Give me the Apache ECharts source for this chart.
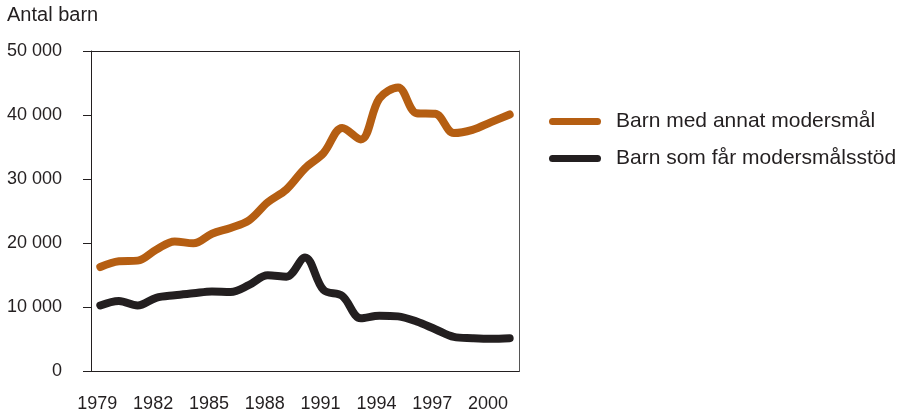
<!DOCTYPE html>
<html><head><meta charset="utf-8">
<script src="https://cdn.jsdelivr.net/npm/echarts@6/dist/echarts.min.js"></script>
<style>html,body{margin:0;padding:0;background:#fff}#c{width:906px;height:414px}</style>
</head><body><div id="c"></div>
<script>
const years = ['1979','1980','1981','1982','1983','1984','1985','1986','1987','1988','1989','1990','1991','1992','1993','1994','1995','1996','1997','1998','1999','2000','2001'];
const annatModersmal = [16300, 17200, 17300, 19000, 20300, 20000, 21500, 22400, 23600, 26400, 28400, 31700, 34100, 38000, 36200, 42600, 44300, 40300, 40200, 37200, 37700, 38900, 40100];
const modersmalsstod = [10300, 11000, 10300, 11500, 11900, 12200, 12500, 12400, 13500, 15000, 14800, 17800, 12700, 11800, 8300, 8700, 8600, 7800, 6600, 5400, 5200, 5100, 5200];
const seriesNames = ['Barn med annat modersmål', 'Barn som får modersmålsstöd'];
const yAxisName = 'Antal barn';

const txt = '#231f20';
const font = 'Liberation Sans, Arial, sans-serif';
const chart = echarts.init(document.getElementById('c'));
const pill = 'path://M3.5,0 L48.5,0 A3.5,3.5 0 0 1 48.5,7 L3.5,7 A3.5,3.5 0 0 1 3.5,0 Z';
chart.setOption({
  animation: false,
  textStyle: { fontFamily: font, color: txt },
  grid: { left: 91, top: 51, right: 387, bottom: 42.5, containLabel: false },
  graphic: [{
    type: 'text', left: 7, top: 5,
    style: { text: yAxisName, font: '20px ' + font, fill: txt }
  }],
  legend: {
    orient: 'vertical', left: 544, top: 106,
    itemWidth: 52, itemHeight: 7, itemGap: 16,
    icon: pill,
    textStyle: { fontSize: 21, color: txt, fontFamily: font, lineHeight: 21, padding: [0, 0, 0, 10] },
    data: seriesNames
  },
  xAxis: [{
    type: 'category', data: years, boundaryGap: true,
    axisLine: { lineStyle: { color: txt, width: 1 } },
    axisTick: { interval: 0, length: 6, lineStyle: { color: txt } },
    axisLabel: { interval: 2, margin: 24, fontSize: 18, color: txt, fontFamily: font, padding: [0, 6, 0, 0] }
  }, {
    type: 'category', data: years, position: 'top',
    axisLine: { onZero: false, lineStyle: { color: txt, width: 1 } },
    axisTick: { show: false }, axisLabel: { show: false }
  }],
  yAxis: [{
    type: 'value', min: 0, max: 50000, interval: 10000,
    axisLine: { show: true, onZero: false, lineStyle: { color: txt, width: 1 } },
    axisTick: { show: true, length: 8, lineStyle: { color: txt } },
    splitLine: { show: false },
    axisLabel: { margin: 29, fontSize: 18, color: txt, fontFamily: font,
      formatter: v => String(v).replace(/\B(?=(\d{3})+(?!\d))/g, ' ') }
  }, {
    type: 'value', min: 0, max: 50000, interval: 10000, position: 'right',
    axisLine: { show: true, onZero: false, lineStyle: { color: '#555', width: 1 } },
    axisTick: { show: false }, axisLabel: { show: false }, splitLine: { show: false }
  }],
  series: [{
    name: seriesNames[0], type: 'line', data: annatModersmal, smooth: 0.35,
    symbol: 'none', color: '#b55e12',
    lineStyle: { width: 8, color: '#b55e12', cap: 'round', join: 'round' }
  }, {
    name: seriesNames[1], type: 'line', data: modersmalsstod, smooth: 0.35,
    symbol: 'none', color: '#231f20',
    lineStyle: { width: 8, color: '#231f20', cap: 'round', join: 'round' }
  }]
});
</script></body></html>
